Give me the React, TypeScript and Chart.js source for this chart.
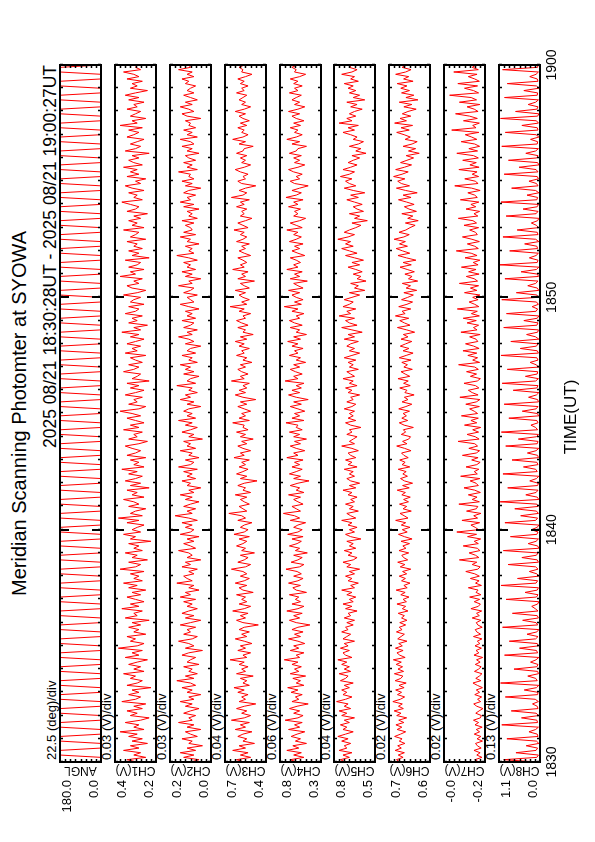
import React, { useEffect, useRef } from "react";
import { Chart, registerables } from "chart.js";

Chart.register(...registerables);

// ---------- text ----------
const TITLE = "Meridian Scanning Photomter at SYOWA";
const PERIOD = "2025 08/21 18:30:28UT - 2025 08/21 19:00:27UT";
const X_TITLE = "TIME(UT)";

// ---------- time axis (minutes after 18:30) ----------
const X_MIN = 0;
const X_MAX = 30;
const X_MINOR_STEP = 1;
const X_TICK_MINUTES = [0, 10, 20, 30];
const X_TICK_LABELS = ["1830", "1840", "1850", "1900"];
const Y_DIVISIONS = 8;

// sampling interval of every series (minutes)
const SAMPLE_STEP = 0.1;

// ---------- panels ----------
const PANEL_NAMES = ["ANGL", "CH1(V)", "CH2(V)", "CH3(V)", "CH4(V)", "CH5(V)", "CH6(V)", "CH7(V)", "CH8(V)"];
const PANEL_MIN = [0, 0.2, 0.0, 0.4, 0.3, 0.5, 0.55, -0.2, 0.0];
const PANEL_MAX = [180, 0.44, 0.24, 0.72, 0.78, 0.82, 0.71, -0.04, 1.04];
const PANEL_TOP_LABELS = ["180.0", "0.4", "0.2", "0.7", "0.8", "0.8", "0.7", "-0.0", "1.1"];
const PANEL_BOTTOM_LABELS = ["0.0", "0.2", "0.0", "0.4", "0.3", "0.5", "0.6", "-0.2", "0.0"];
const PANEL_DIV_LABELS = [
  "22.5 (deg)/div", "0.03 (V)/div", "0.03 (V)/div", "0.04 (V)/div", "0.06 (V)/div",
  "0.04 (V)/div", "0.02 (V)/div", "0.02 (V)/div", "0.13 (V)/div",
];

// ---------- data (one sample every 0.1 min, 18:30 -> 19:00) ----------
const ANGL = [
  0,1,0,180,179,180,1,0,0,179,180,180,0,0,1,180,180,179,0,1,0,180,179,180,1,0,0,180,180,179,
  0,0,1,180,179,180,0,1,0,179,180,180,1,0,0,180,180,179,0,0,1,180,179,180,0,1,0,180,180,180,
  1,0,0,179,180,180,0,1,0,180,179,180,0,0,1,180,180,179,1,0,0,180,179,180,0,1,0,180,180,179,
  0,0,1,180,180,179,1,0,0,180,179,180,0,1,0,179,180,180,0,0,1,180,179,180,1,0,0,180,180,180,
  0,1,0,180,179,180,0,0,1,180,180,179,1,0,0,179,180,180,0,1,0,180,180,179,0,0,1,180,179,180,
  1,0,0,180,180,179,0,1,0,180,179,180,0,0,1,179,180,180,1,0,0,180,180,179,0,1,0,180,179,180,
  0,0,1,180,179,180,1,0,0,180,180,179,0,1,0,180,179,180,0,0,1,180,180,180,1,0,0,179,180,180,
  0,1,0,180,180,179,0,0,1,180,179,180,1,0,0,180,180,179,0,1,0,179,180,180,0,0,1,180,179,180,
  1,0,0,180,179,180,0,1,0,180,180,179,0,0,1,180,179,180,1,0,0,180,180,180,0,1,0,179,180,180,
  0,0,1,180,180,179,1,0,0,180,179,180,0,1,0,180,180,179,0,0,1,180,179,180,1,0,0,180,180,179,
  0,
];

const CH1 = [
  0.31,0.37,0.26,0.33,0.29,0.39,0.30,0.35,0.25,0.34,
  0.28,0.36,0.31,0.41,0.27,0.33,0.30,0.38,0.29,0.24,
  0.35,0.31,0.37,0.28,0.33,0.26,0.40,0.32,0.29,0.36,
  0.30,0.34,0.23,0.37,0.31,0.28,0.35,0.32,0.39,0.27,
  0.33,0.29,0.36,0.31,0.25,0.38,0.30,0.34,0.28,0.42,
  0.31,0.27,0.35,0.32,0.37,0.26,0.33,0.30,0.36,0.29,
  0.34,0.24,0.38,0.31,0.33,0.28,0.40,0.30,0.35,0.27,
  0.32,0.37,0.29,0.34,0.26,0.36,0.31,0.39,0.28,0.33,
  0.30,0.35,0.27,0.41,0.32,0.29,0.36,0.25,0.34,0.31,
  0.38,0.28,0.33,0.30,0.36,0.23,0.35,0.32,0.39,0.29,
  0.34,0.31,0.27,0.37,0.30,0.42,0.28,0.35,0.32,0.26,
  0.36,0.30,0.33,0.39,0.27,0.34,0.31,0.37,0.24,0.35,
  0.29,0.38,0.32,0.28,0.36,0.31,0.40,0.27,0.33,0.30,
  0.35,0.26,0.37,0.32,0.29,0.34,0.38,0.30,0.25,0.36,
  0.31,0.33,0.28,0.39,0.30,0.35,0.27,0.32,0.37,0.29,
  0.34,0.41,0.30,0.26,0.36,0.31,0.33,0.28,0.38,0.32,
  0.27,0.35,0.30,0.37,0.24,0.34,0.31,0.29,0.39,0.33,
  0.30,0.36,0.28,0.32,0.35,0.26,0.38,0.31,0.34,0.29,
  0.37,0.32,0.27,0.35,0.30,0.40,0.29,0.33,0.25,0.36,
  0.31,0.34,0.28,0.38,0.32,0.30,0.36,0.27,0.35,0.33,
  0.29,0.39,0.31,0.26,0.34,0.37,0.30,0.33,0.28,0.41,
  0.32,0.35,0.27,0.36,0.31,0.29,0.38,0.24,0.34,0.30,
  0.36,0.28,0.33,0.31,0.37,0.26,0.35,0.32,0.30,0.39,
  0.27,0.34,0.31,0.36,0.29,0.33,0.25,0.37,0.32,0.30,
  0.35,0.40,0.28,0.33,0.31,0.36,0.27,0.34,0.38,0.29,
  0.32,0.26,0.37,0.30,0.35,0.31,0.39,0.28,0.33,0.36,
  0.30,0.34,0.24,0.38,0.32,0.29,0.35,0.31,0.27,0.37,
  0.33,0.30,0.36,0.28,0.41,0.31,0.34,0.26,0.35,0.32,
  0.29,0.37,0.31,0.33,0.27,0.36,0.30,0.38,0.32,0.25,
  0.35,0.31,0.34,0.28,0.37,0.30,0.33,0.39,0.29,0.32,
  0.31,
];

const CH2 = [
  0.12,0.07,0.16,0.10,0.18,0.09,0.14,0.05,0.13,0.11,
  0.17,0.08,0.12,0.15,0.06,0.14,0.10,0.19,0.11,0.13,
  0.09,0.16,0.12,0.07,0.15,0.11,0.18,0.10,0.13,0.06,
  0.14,0.11,0.17,0.09,0.12,0.20,0.10,0.15,0.08,0.13,
  0.11,0.16,0.07,0.14,0.12,0.09,0.17,0.13,0.05,0.15,
  0.10,0.13,0.19,0.11,0.08,0.16,0.12,0.14,0.09,0.18,
  0.12,0.06,0.15,0.10,0.17,0.13,0.08,0.14,0.11,0.16,
  0.09,0.18,0.12,0.15,0.07,0.13,0.10,0.20,0.11,0.14,
  0.16,0.10,0.13,0.08,0.17,0.12,0.15,0.06,0.14,0.11,
  0.13,0.19,0.09,0.12,0.16,0.10,0.14,0.07,0.18,0.12,
  0.10,0.15,0.11,0.17,0.08,0.13,0.21,0.11,0.14,0.09,
  0.16,0.12,0.07,0.15,0.11,0.18,0.10,0.13,0.06,0.14,
  0.12,0.17,0.09,0.14,0.11,0.16,0.08,0.19,0.12,0.10,
  0.15,0.07,0.13,0.11,0.18,0.09,0.14,0.12,0.16,0.05,
  0.13,0.10,0.17,0.12,0.08,0.15,0.11,0.19,0.09,0.14,
  0.11,0.16,0.13,0.06,0.14,0.10,0.18,0.12,0.15,0.08,
  0.13,0.11,0.20,0.09,0.14,0.12,0.07,0.16,0.10,0.15,
  0.12,0.18,0.08,0.13,0.11,0.17,0.09,0.14,0.12,0.06,
  0.15,0.10,0.13,0.19,0.11,0.14,0.08,0.16,0.12,0.10,
  0.17,0.09,0.14,0.11,0.15,0.07,0.13,0.18,0.10,0.12,
  0.14,0.08,0.16,0.12,0.10,0.19,0.11,0.13,0.06,0.15,
  0.11,0.17,0.09,0.14,0.12,0.16,0.08,0.13,0.20,0.10,
  0.13,0.11,0.15,0.07,0.14,0.12,0.18,0.09,0.16,0.11,
  0.12,0.15,0.10,0.17,0.08,0.13,0.11,0.14,0.07,0.16,
  0.10,0.18,0.12,0.14,0.09,0.16,0.13,0.06,0.15,0.11,
  0.17,0.10,0.13,0.12,0.19,0.08,0.14,0.11,0.16,0.09,
  0.13,0.15,0.07,0.14,0.11,0.17,0.10,0.12,0.18,0.08,
  0.14,0.11,0.16,0.09,0.13,0.12,0.15,0.06,0.14,0.17,
  0.10,0.13,0.18,0.11,0.15,0.08,0.12,0.16,0.10,0.14,
  0.12,0.09,0.15,0.13,0.17,0.10,0.14,0.11,0.19,0.12,
  0.13,
];

const CH3 = [
  0.57,0.63,0.52,0.60,0.54,0.66,0.56,0.61,0.49,0.58,
  0.55,0.62,0.58,0.51,0.64,0.56,0.60,0.53,0.67,0.57,
  0.52,0.59,0.55,0.63,0.57,0.48,0.61,0.56,0.59,0.54,
  0.62,0.57,0.65,0.53,0.58,0.55,0.60,0.50,0.63,0.56,
  0.59,0.54,0.61,0.57,0.68,0.55,0.58,0.52,0.62,0.56,
  0.60,0.51,0.57,0.64,0.55,0.59,0.53,0.61,0.57,0.46,
  0.58,0.63,0.56,0.60,0.54,0.66,0.57,0.52,0.61,0.55,
  0.59,0.56,0.63,0.50,0.58,0.61,0.55,0.64,0.57,0.53,
  0.60,0.55,0.58,0.67,0.56,0.52,0.62,0.57,0.54,0.60,
  0.49,0.59,0.56,0.63,0.58,0.55,0.61,0.53,0.65,0.57,
  0.54,0.60,0.57,0.51,0.62,0.56,0.59,0.69,0.55,0.58,
  0.61,0.53,0.57,0.60,0.55,0.64,0.52,0.58,0.56,0.62,
  0.57,0.47,0.60,0.55,0.63,0.58,0.54,0.61,0.56,0.59,
  0.53,0.65,0.57,0.60,0.52,0.58,0.62,0.55,0.59,0.50,
  0.60,0.56,0.63,0.54,0.58,0.57,0.66,0.53,0.61,0.56,
  0.59,0.52,0.57,0.62,0.55,0.60,0.48,0.58,0.64,0.56,
  0.61,0.55,0.58,0.53,0.67,0.57,0.60,0.54,0.59,0.62,
  0.56,0.60,0.51,0.58,0.55,0.63,0.57,0.59,0.53,0.61,
  0.57,0.64,0.55,0.60,0.50,0.58,0.56,0.62,0.54,0.59,
  0.63,0.56,0.58,0.52,0.61,0.57,0.68,0.55,0.59,0.53,
  0.58,0.61,0.56,0.64,0.53,0.57,0.60,0.49,0.62,0.56,
  0.59,0.54,0.66,0.57,0.60,0.55,0.58,0.62,0.52,0.57,
  0.61,0.56,0.59,0.53,0.63,0.58,0.55,0.60,0.57,0.65,
  0.54,0.58,0.62,0.56,0.51,0.60,0.57,0.59,0.55,0.63,
  0.57,0.60,0.53,0.67,0.58,0.55,0.61,0.56,0.48,0.59,
  0.62,0.56,0.58,0.54,0.60,0.64,0.57,0.52,0.59,0.56,
  0.60,0.55,0.63,0.58,0.57,0.50,0.61,0.56,0.66,0.58,
  0.54,0.59,0.57,0.62,0.55,0.60,0.53,0.58,0.61,0.56,
  0.64,0.57,0.52,0.59,0.56,0.61,0.58,0.55,0.63,0.57,
  0.59,0.54,0.60,0.57,0.62,0.56,0.51,0.59,0.58,0.61,
  0.57,
];

const CH4 = [
  0.58,0.66,0.50,0.62,0.53,0.70,0.56,0.63,0.47,0.60,
  0.54,0.65,0.58,0.49,0.68,0.55,0.61,0.52,0.72,0.57,
  0.51,0.62,0.55,0.67,0.58,0.45,0.64,0.56,0.60,0.52,
  0.65,0.57,0.69,0.50,0.59,0.54,0.63,0.48,0.66,0.56,
  0.61,0.53,0.64,0.57,0.73,0.55,0.59,0.50,0.66,0.56,
  0.62,0.49,0.57,0.68,0.54,0.61,0.51,0.64,0.57,0.43,
  0.59,0.67,0.55,0.62,0.52,0.70,0.57,0.50,0.64,0.54,
  0.60,0.56,0.67,0.47,0.59,0.63,0.54,0.68,0.57,0.51,
  0.62,0.53,0.58,0.71,0.55,0.50,0.65,0.57,0.52,0.62,
  0.46,0.60,0.55,0.67,0.58,0.53,0.64,0.51,0.69,0.57,
  0.52,0.62,0.57,0.48,0.66,0.55,0.61,0.74,0.54,0.59,
  0.64,0.51,0.57,0.62,0.54,0.68,0.50,0.59,0.55,0.66,
  0.57,0.44,0.62,0.54,0.67,0.59,0.52,0.64,0.55,0.61,
  0.51,0.70,0.57,0.62,0.49,0.59,0.66,0.54,0.61,0.47,
  0.62,0.55,0.67,0.52,0.59,0.57,0.71,0.50,0.64,0.55,
  0.61,0.49,0.57,0.66,0.53,0.62,0.45,0.59,0.68,0.55,
  0.64,0.53,0.59,0.50,0.72,0.57,0.62,0.52,0.60,0.66,
  0.55,0.62,0.48,0.59,0.54,0.67,0.57,0.61,0.51,0.64,
  0.57,0.69,0.54,0.62,0.47,0.59,0.55,0.66,0.52,0.61,
  0.67,0.55,0.59,0.50,0.64,0.57,0.73,0.53,0.61,0.51,
  0.59,0.64,0.55,0.68,0.51,0.57,0.62,0.46,0.66,0.55,
  0.61,0.52,0.70,0.57,0.62,0.54,0.59,0.66,0.49,0.57,
  0.64,0.55,0.61,0.51,0.67,0.59,0.53,0.62,0.57,0.70,
  0.52,0.59,0.66,0.55,0.48,0.62,0.57,0.61,0.54,0.68,
  0.57,0.62,0.51,0.71,0.59,0.53,0.64,0.55,0.45,0.61,
  0.66,0.55,0.59,0.52,0.62,0.68,0.57,0.49,0.61,0.55,
  0.62,0.53,0.67,0.59,0.57,0.47,0.64,0.55,0.70,0.59,
  0.52,0.61,0.57,0.66,0.54,0.62,0.50,0.59,0.64,0.55,
  0.68,0.57,0.49,0.61,0.55,0.64,0.59,0.53,0.67,0.57,
  0.61,0.52,0.62,0.57,0.66,0.55,0.48,0.61,0.59,0.64,
  0.58,
];

const CH5 = [
  0.73,0.77,0.70,0.75,0.68,0.78,0.72,0.74,0.69,0.76,
  0.71,0.79,0.73,0.67,0.75,0.72,0.77,0.70,0.74,0.66,
  0.76,0.72,0.78,0.69,0.74,0.71,0.80,0.73,0.68,0.75,
  0.72,0.76,0.70,0.74,0.67,0.77,0.73,0.71,0.78,0.69,
  0.74,0.70,0.76,0.72,0.79,0.68,0.73,0.75,0.70,0.77,
  0.71,0.74,0.66,0.75,0.72,0.69,0.76,0.71,0.73,0.67,
  0.72,0.66,0.74,0.69,0.71,0.64,0.73,0.68,0.75,0.67,
  0.70,0.65,0.72,0.68,0.76,0.66,0.69,0.63,0.71,0.68,
  0.73,0.66,0.70,0.62,0.72,0.69,0.75,0.67,0.64,0.71,
  0.68,0.74,0.65,0.70,0.67,0.72,0.61,0.69,0.73,0.66,
  0.70,0.64,0.71,0.68,0.76,0.65,0.69,0.72,0.63,0.70,
  0.67,0.73,0.66,0.69,0.64,0.71,0.68,0.75,0.65,0.70,
  0.62,0.69,0.72,0.66,0.70,0.67,0.74,0.64,0.71,0.68,
  0.73,0.65,0.69,0.71,0.63,0.68,0.76,0.66,0.70,0.67,
  0.64,0.72,0.68,0.70,0.61,0.69,0.73,0.65,0.71,0.67,
  0.70,0.66,0.74,0.68,0.65,0.72,0.67,0.69,0.62,0.71,
  0.68,0.73,0.64,0.70,0.67,0.75,0.66,0.69,0.72,0.63,
  0.70,0.67,0.71,0.65,0.74,0.68,0.62,0.70,0.66,0.72,
  0.69,0.63,0.74,0.66,0.71,0.60,0.68,0.76,0.64,0.70,
  0.73,0.66,0.78,0.69,0.72,0.65,0.75,0.70,0.67,0.74,
  0.68,0.62,0.70,0.58,0.66,0.63,0.69,0.57,0.64,0.61,
  0.67,0.60,0.65,0.71,0.62,0.68,0.59,0.66,0.73,0.64,
  0.70,0.76,0.67,0.73,0.69,0.79,0.71,0.66,0.74,0.70,
  0.65,0.61,0.68,0.56,0.66,0.62,0.70,0.59,0.64,0.67,
  0.60,0.66,0.72,0.63,0.69,0.58,0.67,0.74,0.65,0.70,
  0.73,0.68,0.77,0.70,0.66,0.75,0.69,0.64,0.71,0.67,
  0.62,0.68,0.57,0.65,0.61,0.70,0.63,0.59,0.67,0.64,
  0.69,0.75,0.66,0.71,0.63,0.78,0.68,0.72,0.65,0.70,
  0.66,0.60,0.69,0.64,0.72,0.58,0.67,0.62,0.70,0.65,
  0.71,0.67,0.74,0.63,0.69,0.66,0.76,0.68,0.64,0.70,
  0.68,
];

const CH6 = [
  0.667,0.681,0.655,0.674,0.650,0.686,0.662,0.676,0.648,0.670,
  0.659,0.688,0.665,0.645,0.678,0.660,0.683,0.652,0.672,0.641,
  0.680,0.663,0.690,0.654,0.673,0.658,0.695,0.666,0.649,0.677,
  0.661,0.684,0.651,0.671,0.643,0.686,0.664,0.656,0.689,0.653,
  0.675,0.657,0.682,0.662,0.693,0.647,0.668,0.679,0.655,0.685,
  0.658,0.672,0.640,0.676,0.663,0.650,0.681,0.659,0.670,0.645,
  0.668,0.640,0.661,0.650,0.674,0.636,0.658,0.645,0.679,0.642,
  0.655,0.632,0.664,0.647,0.682,0.639,0.652,0.628,0.661,0.646,
  0.670,0.641,0.657,0.625,0.666,0.648,0.676,0.637,0.653,0.660,
  0.633,0.671,0.644,0.656,0.630,0.663,0.620,0.650,0.673,0.639,
  0.658,0.628,0.662,0.645,0.684,0.636,0.651,0.667,0.623,0.655,
  0.641,0.669,0.634,0.653,0.627,0.660,0.646,0.678,0.631,0.657,
  0.618,0.650,0.665,0.638,0.656,0.643,0.674,0.629,0.659,0.647,
  0.668,0.635,0.652,0.661,0.624,0.649,0.680,0.640,0.657,0.633,
  0.626,0.662,0.645,0.654,0.615,0.651,0.670,0.637,0.660,0.642,
  0.655,0.630,0.672,0.644,0.621,0.659,0.636,0.650,0.612,0.648,
  0.640,0.668,0.627,0.653,0.635,0.675,0.629,0.647,0.663,0.619,
  0.652,0.638,0.660,0.624,0.670,0.643,0.616,0.655,0.632,0.666,
  0.645,0.621,0.663,0.636,0.654,0.610,0.641,0.677,0.628,0.650,
  0.668,0.633,0.685,0.647,0.659,0.625,0.672,0.640,0.618,0.661,
  0.637,0.615,0.652,0.602,0.643,0.626,0.658,0.598,0.634,0.620,
  0.648,0.611,0.639,0.667,0.623,0.655,0.605,0.642,0.675,0.629,
  0.657,0.682,0.638,0.669,0.646,0.690,0.652,0.631,0.671,0.644,
  0.628,0.608,0.646,0.596,0.637,0.617,0.660,0.603,0.632,0.650,
  0.612,0.641,0.673,0.624,0.655,0.600,0.645,0.681,0.630,0.662,
  0.676,0.648,0.692,0.659,0.635,0.684,0.650,0.622,0.665,0.640,
  0.614,0.643,0.592,0.634,0.606,0.655,0.620,0.600,0.647,0.627,
  0.651,0.680,0.631,0.663,0.618,0.688,0.642,0.667,0.625,0.658,
  0.636,0.604,0.652,0.621,0.670,0.597,0.644,0.613,0.661,0.630,
  0.664,0.640,0.678,0.616,0.653,0.633,0.684,0.645,0.624,0.659,
  0.640,
];

const CH7 = [
  -0.176,-0.160,-0.188,-0.168,-0.181,-0.157,-0.185,-0.170,-0.163,-0.190,
  -0.169,-0.184,-0.158,-0.179,-0.166,-0.189,-0.161,-0.175,-0.155,-0.182,
  -0.186,-0.164,-0.177,-0.192,-0.168,-0.156,-0.183,-0.171,-0.187,-0.160,
  -0.179,-0.166,-0.190,-0.170,-0.153,-0.184,-0.164,-0.178,-0.188,-0.159,
  -0.175,-0.185,-0.162,-0.181,-0.167,-0.191,-0.157,-0.176,-0.165,-0.186,
  -0.161,-0.180,-0.170,-0.188,-0.155,-0.183,-0.168,-0.162,-0.189,-0.172,
  -0.166,-0.184,-0.150,-0.178,-0.167,-0.187,-0.145,-0.174,-0.182,-0.158,
  -0.179,-0.140,-0.184,-0.165,-0.173,-0.135,-0.186,-0.163,-0.177,-0.143,
  -0.178,-0.160,-0.125,-0.172,-0.181,-0.150,-0.168,-0.100,-0.176,-0.163,
  -0.138,-0.180,-0.170,-0.115,-0.174,-0.158,-0.183,-0.132,-0.167,-0.090,
  -0.175,-0.162,-0.145,-0.179,-0.110,-0.171,-0.156,-0.184,-0.128,-0.166,
  -0.172,-0.098,-0.178,-0.150,-0.169,-0.135,-0.182,-0.160,-0.118,-0.174,
  -0.165,-0.142,-0.180,-0.105,-0.170,-0.158,-0.176,-0.126,-0.168,-0.181,
  -0.148,-0.173,-0.112,-0.166,-0.179,-0.137,-0.171,-0.160,-0.095,-0.177,
  -0.162,-0.130,-0.175,-0.152,-0.183,-0.120,-0.168,-0.145,-0.174,-0.108,
  -0.171,-0.158,-0.140,-0.178,-0.125,-0.166,-0.180,-0.102,-0.173,-0.150,
  -0.135,-0.176,-0.163,-0.118,-0.170,-0.182,-0.143,-0.167,-0.128,-0.174,
  -0.160,-0.097,-0.179,-0.152,-0.171,-0.133,-0.168,-0.114,-0.177,-0.156,
  -0.124,-0.172,-0.165,-0.140,-0.181,-0.106,-0.169,-0.155,-0.175,-0.130,
  -0.166,-0.115,-0.178,-0.147,-0.170,-0.092,-0.176,-0.160,-0.138,-0.173,
  -0.152,-0.180,-0.120,-0.168,-0.143,-0.175,-0.100,-0.171,-0.158,-0.127,
  -0.177,-0.136,-0.165,-0.108,-0.173,-0.154,-0.180,-0.122,-0.169,-0.146,
  -0.088,-0.174,-0.160,-0.131,-0.178,-0.149,-0.112,-0.170,-0.163,-0.140,
  -0.175,-0.118,-0.167,-0.153,-0.096,-0.172,-0.157,-0.179,-0.126,-0.164,
  -0.145,-0.176,-0.104,-0.170,-0.160,-0.133,-0.181,-0.148,-0.082,-0.173,
  -0.162,-0.121,-0.175,-0.150,-0.169,-0.098,-0.177,-0.141,-0.166,-0.113,
  -0.174,-0.155,-0.090,-0.171,-0.137,-0.179,-0.160,-0.107,-0.168,-0.148,
  -0.123,-0.176,-0.070,-0.165,-0.152,-0.178,-0.116,-0.170,-0.140,-0.085,
  -0.173,-0.158,-0.130,-0.180,-0.100,-0.167,-0.146,-0.062,-0.175,-0.155,
  -0.120,-0.171,-0.094,-0.178,-0.160,-0.135,-0.169,-0.078,-0.174,-0.150,
  -0.165,
];

const CH8 = [
  0.05,0.92,0.08,0.04,0.61,0.10,0.06,0.35,0.03,0.09,
  0.84,0.05,0.07,0.28,0.11,0.04,0.97,0.06,0.08,0.47,
  0.03,0.10,0.73,0.05,0.07,0.19,0.04,0.12,0.88,0.06,
  0.05,0.40,0.09,0.03,1.00,0.07,0.11,0.31,0.04,0.06,
  0.66,0.08,0.05,0.24,0.10,0.03,0.90,0.06,0.09,0.52,
  0.04,0.07,0.78,0.11,0.05,0.33,0.08,0.03,0.95,0.06,
  0.10,0.44,0.04,0.07,0.70,0.05,0.12,0.21,0.06,0.03,
  0.86,0.09,0.05,0.38,0.07,0.04,0.99,0.10,0.06,0.57,
  0.03,0.08,0.27,0.05,0.11,0.81,0.04,0.07,0.46,0.09,
  0.05,0.93,0.03,0.06,0.30,0.10,0.04,0.75,0.08,0.05,
  0.22,0.07,0.03,0.89,0.11,0.06,0.49,0.04,0.09,0.64,
  0.05,0.08,1.01,0.03,0.07,0.36,0.10,0.05,0.82,0.06,
  0.04,0.26,0.09,0.03,0.94,0.07,0.11,0.42,0.05,0.08,
  0.71,0.04,0.06,0.32,0.10,0.03,0.87,0.07,0.05,0.55,
  0.09,0.04,0.98,0.06,0.11,0.23,0.05,0.08,0.79,0.03,
  0.07,0.45,0.10,0.05,0.91,0.04,0.06,0.29,0.09,0.03,
  0.68,0.08,0.05,0.96,0.11,0.04,0.37,0.07,0.06,0.83,
  0.03,0.10,0.25,0.05,0.08,0.99,0.04,0.07,0.50,0.09,
  0.05,0.74,0.03,0.11,0.34,0.06,0.04,0.92,0.08,0.05,
  0.41,0.07,0.03,0.85,0.10,0.06,0.20,0.04,0.09,0.97,
  0.05,0.08,0.60,0.03,0.07,0.31,0.11,0.05,0.89,0.04,
  0.06,0.48,0.09,0.03,1.02,0.07,0.05,0.27,0.10,0.04,
  0.77,0.06,0.08,0.39,0.03,0.11,0.94,0.05,0.07,0.58,
  0.04,0.09,0.22,0.06,0.03,0.86,0.10,0.05,0.43,0.07,
  0.04,0.99,0.08,0.06,0.33,0.03,0.11,0.72,0.05,0.09,
  0.28,0.04,0.07,0.91,0.05,0.10,0.53,0.03,0.06,0.80,
  0.08,0.05,0.36,0.11,0.04,0.97,0.07,0.06,0.24,0.03,
  0.10,0.88,0.05,0.07,0.46,0.04,0.09,1.00,0.06,0.03,
  0.62,0.08,0.05,0.30,0.11,0.04,0.90,0.07,0.06,0.41,
  0.03,0.09,0.83,0.05,0.07,0.26,0.10,0.04,0.95,0.06,
  0.05,
];

const PANEL_SERIES = [ANGL, CH1, CH2, CH3, CH4, CH5, CH6, CH7, CH8];

// ---------- layout (landscape page, later rotated) ----------
const PAGE_W = 842;
const PAGE_H = 595;
const PLOT_LEFT = 80;
const PLOT_RIGHT = 65;
const PANEL_FIRST_TOP = 60;
const PANEL_PITCH = 54.875;
const PANEL_H = 41;
const FONT = "'Liberation Sans', Arial, Helvetica, sans-serif";
const LINE_COLOR = "#ff0000";

function panelTop(i: number) {
  return Math.round(PANEL_FIRST_TOP + i * PANEL_PITCH);
}

function Panel({ index }: { index: number }) {
  const ref = useRef<HTMLCanvasElement | null>(null);
  const last = index === PANEL_NAMES.length - 1;
  const padTop = 5;
  const padBottom = last ? 34 : 9;
  const height = padTop + PANEL_H + padBottom;
  const top = panelTop(index) - padTop;

  useEffect(() => {
    if (!ref.current) return;
    const values = PANEL_SERIES[index];
    const points = values.map((v, k) => ({ x: k * SAMPLE_STEP, y: v }));
    const yMin = PANEL_MIN[index];
    const yMax = PANEL_MAX[index];

    const framePlugin = {
      id: "panelFrame",
      afterDraw(chart: any) {
        const { ctx, chartArea: a, scales } = chart;
        const xs = scales.x;
        const ys = scales.y;
        ctx.save();
        ctx.strokeStyle = "#000";
        // minor time ticks
        ctx.lineWidth = 1.5;
        ctx.beginPath();
        for (let m = X_MIN; m <= X_MAX + 1e-9; m += X_MINOR_STEP) {
          const px = Math.round(xs.getPixelForValue(m)) + 0.5;
          ctx.moveTo(px, a.top);
          ctx.lineTo(px, a.top + 3);
          ctx.moveTo(px, a.bottom);
          ctx.lineTo(px, a.bottom - 3);
        }
        ctx.stroke();
        // major time ticks
        ctx.lineWidth = 2;
        ctx.beginPath();
        X_TICK_MINUTES.forEach((m) => {
          const px = Math.round(xs.getPixelForValue(m));
          ctx.moveTo(px, a.top);
          ctx.lineTo(px, a.top + 9);
          ctx.moveTo(px, a.bottom);
          ctx.lineTo(px, a.bottom - 9);
        });
        ctx.stroke();
        // value ticks (8 divisions)
        ctx.lineWidth = 1.5;
        ctx.beginPath();
        for (let k = 1; k < Y_DIVISIONS; k++) {
          const v = yMin + ((yMax - yMin) * k) / Y_DIVISIONS;
          const py = Math.round(ys.getPixelForValue(v)) + 0.5;
          ctx.moveTo(a.left, py);
          ctx.lineTo(a.left + 3, py);
          ctx.moveTo(a.right, py);
          ctx.lineTo(a.right - 3, py);
        }
        ctx.stroke();
        // frame
        ctx.lineWidth = 2;
        ctx.strokeRect(a.left, a.top, a.right - a.left, a.bottom - a.top);

        // value labels
        ctx.fillStyle = "#000";
        ctx.font = `13px ${FONT}`;
        ctx.textAlign = "right";
        ctx.textBaseline = "top";
        ctx.fillText(PANEL_TOP_LABELS[index], a.left - 18, ys.getPixelForValue(yMax) + 1);
        ctx.textBaseline = "bottom";
        ctx.fillText(PANEL_BOTTOM_LABELS[index], a.left - 18, ys.getPixelForValue(yMin));
        // axis name (rotated)
        ctx.save();
        ctx.font = `12px ${FONT}`;
        ctx.translate(a.left - 8, (a.top + a.bottom) / 2);
        ctx.rotate(-Math.PI / 2);
        ctx.textAlign = "center";
        ctx.textBaseline = "middle";
        ctx.fillText(PANEL_NAMES[index], 0, 0);
        ctx.restore();

        // time labels under the last panel
        if (last) {
          ctx.font = `14px ${FONT}`;
          ctx.textAlign = "center";
          ctx.textBaseline = "top";
          X_TICK_MINUTES.forEach((m, j) => {
            ctx.fillText(X_TICK_LABELS[j], xs.getPixelForValue(m), a.bottom + 5);
          });
        }
        ctx.restore();
      },
    };

    const chart = new Chart(ref.current, {
      type: "line",
      data: {
        datasets: [
          {
            data: points,
            borderColor: LINE_COLOR,
            borderWidth: 1,
            pointRadius: 0,
            fill: false,
            tension: 0,
          },
        ],
      },
      options: {
        responsive: false,
        maintainAspectRatio: false,
        animation: false,
        devicePixelRatio: 1,
        events: [],
        layout: { padding: { left: PLOT_LEFT, right: PLOT_RIGHT, top: padTop, bottom: padBottom } },
        plugins: { legend: { display: false }, tooltip: { enabled: false }, title: { display: false } },
        scales: {
          x: { type: "linear", min: X_MIN, max: X_MAX, display: false },
          y: { type: "linear", min: yMin, max: yMax, display: false },
        },
      },
      plugins: [framePlugin],
    } as any);
    return () => chart.destroy();
  }, [index]);

  return (
    <canvas
      ref={ref}
      width={PAGE_W}
      height={height}
      style={{ position: "absolute", left: 0, top, width: PAGE_W, height }}
    />
  );
}

export default function App() {
  const textBase: React.CSSProperties = {
    position: "absolute",
    fontFamily: FONT,
    color: "#000",
    whiteSpace: "nowrap",
    margin: 0,
  };
  return (
    <div
      style={{
        position: "absolute",
        left: 0,
        top: 0,
        width: PAGE_W,
        height: PAGE_H,
        overflow: "hidden",
        background: "#fff",
        transformOrigin: "0 0",
        transform: `translate(0px, ${PAGE_W}px) rotate(-90deg)`,
      }}
    >
      <div style={{ ...textBase, left: PLOT_LEFT, width: PAGE_W - PLOT_LEFT - PLOT_RIGHT, top: 7, fontSize: 20, lineHeight: "24px", textAlign: "center" }}>
        {TITLE}
      </div>
      <div style={{ ...textBase, left: PLOT_LEFT, width: PAGE_W - PLOT_LEFT - PLOT_RIGHT, top: 40, fontSize: 17.5, lineHeight: "20px", textAlign: "right" }}>
        {PERIOD}
      </div>
      {PANEL_DIV_LABELS.map((label, i) => (
        <div key={"div" + i} style={{ ...textBase, left: PLOT_LEFT + 2, top: panelTop(i) - 16, fontSize: 13, lineHeight: "15px" }}>
          {label}
        </div>
      ))}
      {PANEL_NAMES.map((_, i) => (
        <Panel key={i} index={i} />
      ))}
      <div style={{ ...textBase, left: 325, width: 200, top: panelTop(PANEL_NAMES.length - 1) + PANEL_H + 21, fontSize: 17, lineHeight: "20px", textAlign: "center" }}>
        {X_TITLE}
      </div>
    </div>
  );
}
